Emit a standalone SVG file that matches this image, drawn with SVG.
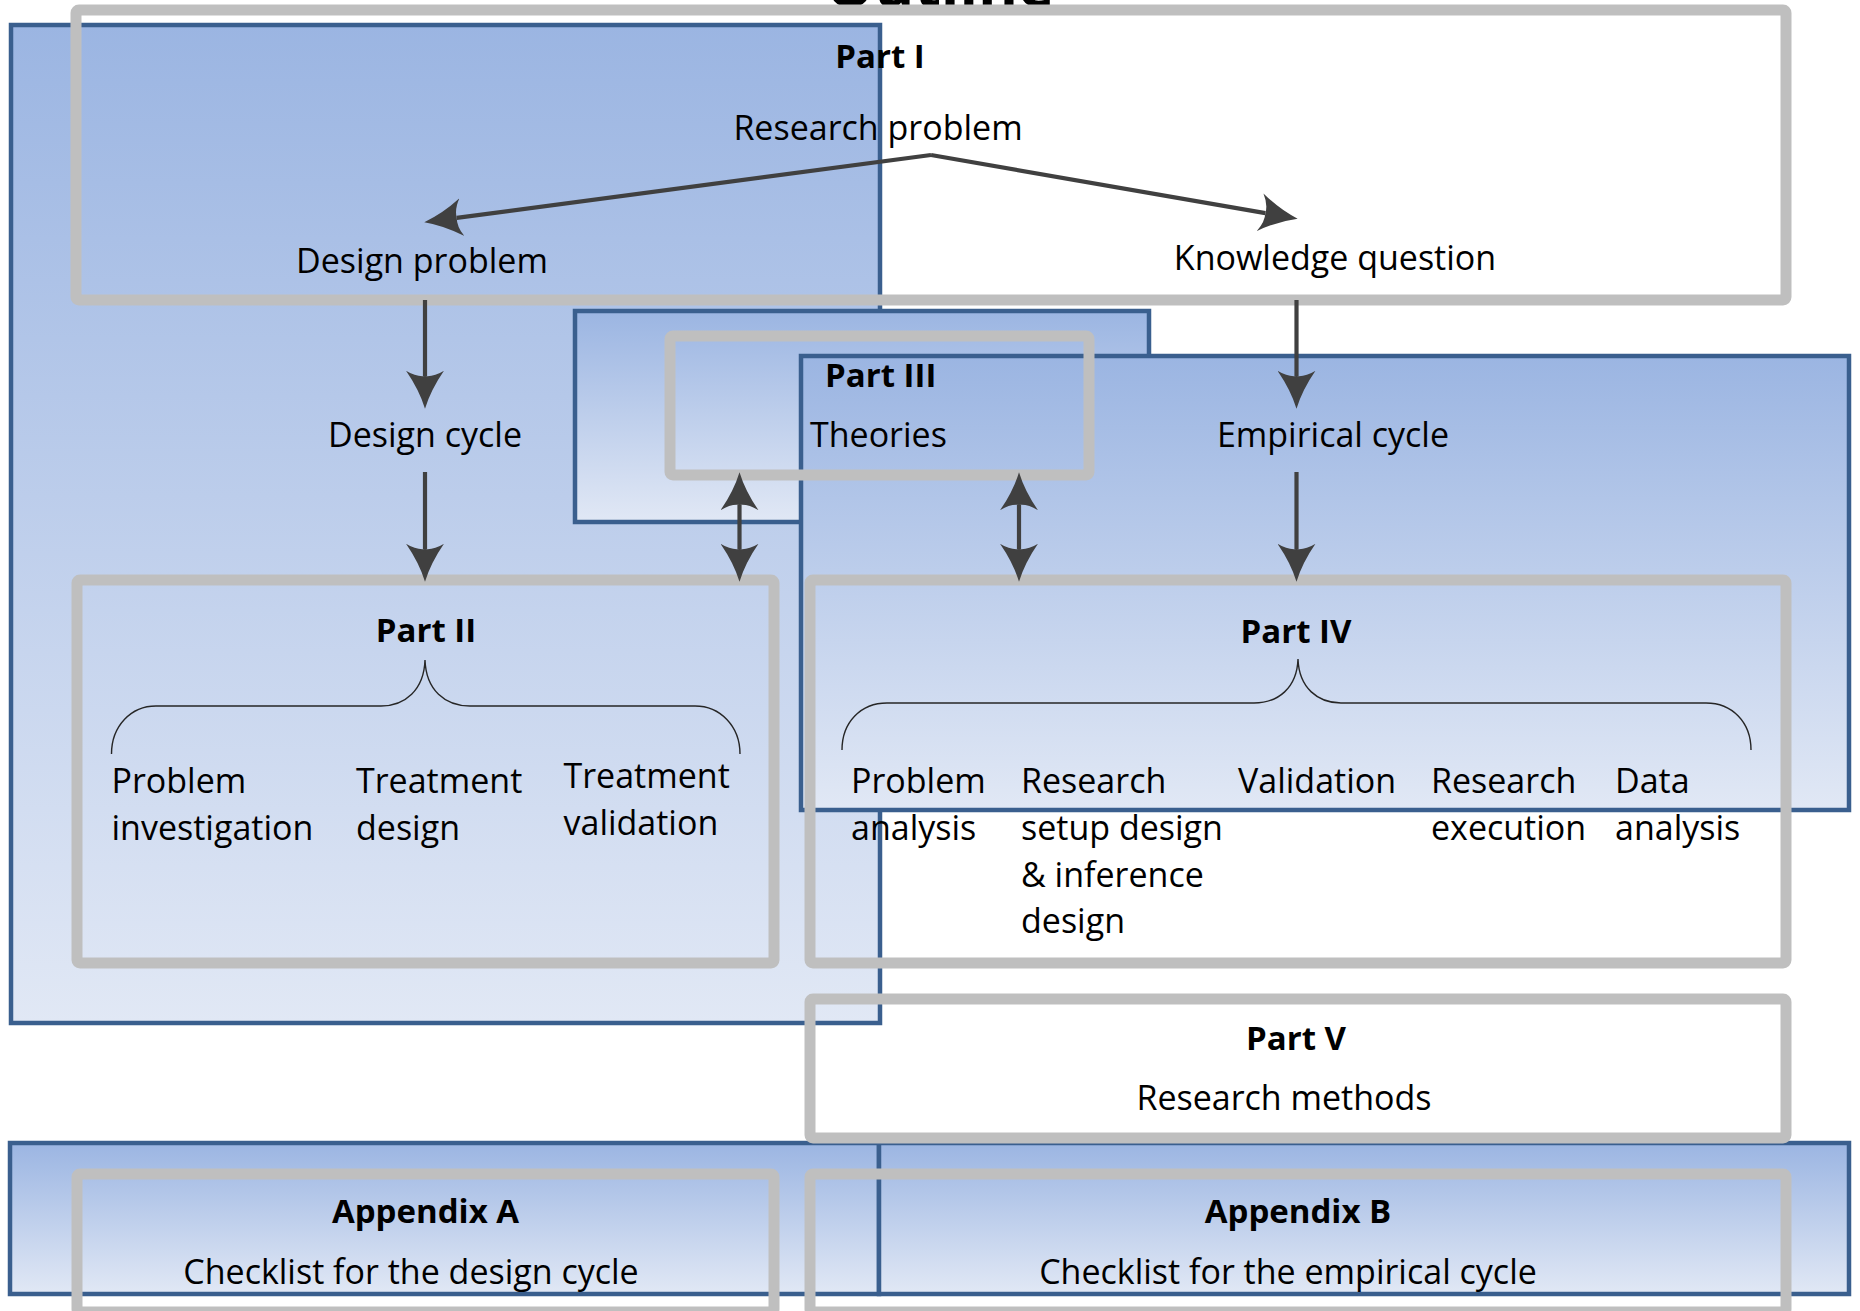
<svg xmlns="http://www.w3.org/2000/svg" width="1860" height="1311" viewBox="0 0 1860 1311">
<defs>
<linearGradient id="blueFill" x1="0" y1="0" x2="0" y2="1">
<stop offset="0" stop-color="#9bb5e2"/>
<stop offset="1" stop-color="#e1e8f5"/>
</linearGradient>
<marker id="head" markerUnits="userSpaceOnUse" markerWidth="38" markerHeight="38" viewBox="0 0 36 36" refX="5" refY="18" orient="auto-start-reverse">
<path d="M36,18 Q18,12.5 0,0 Q6,9.5 5,18 Q6,26.5 0,36 Q18,23.5 36,18 Z" fill="#404040"/>
</marker>
<style>
.area{fill:url(#blueFill);stroke:#3a5f8e;stroke-width:4.5}
.frame{fill:none;stroke:#bfbfbf;stroke-width:11;stroke-linejoin:round}
.t{font-family:"Open Sans","Noto Sans",sans-serif;font-size:34px;fill:#000}
.b{font-family:"Open Sans","Noto Sans",sans-serif;font-size:33px;font-weight:bold;fill:#000}
.c{text-anchor:middle}
.conn{fill:none;stroke:#404040;stroke-width:4.2}
.brace{fill:none;stroke:#262626;stroke-width:1.4}
</style>
</defs>
<rect width="1860" height="1311" fill="#ffffff"/>

<g id="area-design"><rect class="area" x="11" y="25" width="869" height="998"/></g>
<g id="area-theories"><rect class="area" x="575" y="311" width="574" height="211"/></g>
<g id="area-empirical"><rect class="area" x="801" y="356" width="1048" height="454"/></g>
<g id="area-appendix-a"><rect class="area" x="10" y="1143" width="869" height="151"/></g>
<g id="area-appendix-b"><rect class="area" x="879" y="1143" width="970" height="151"/></g>

<g id="title"><text class="b c" x="940" y="7" style="font-size:61px">Outline</text></g>

<g id="part-i">
<rect class="frame" x="76" y="10" width="1710" height="290" rx="3"/>
<text class="b c" x="880" y="68">Part I</text>
<text class="t c" x="878" y="140">Research problem</text>
<text class="t c" x="422" y="273">Design problem</text>
<text class="t c" x="1335" y="270">Knowledge question</text>
</g>

<g id="design-cycle"><text class="t c" x="425" y="447">Design cycle</text></g>
<g id="empirical-cycle"><text class="t c" x="1333" y="447">Empirical cycle</text></g>

<g id="part-iii">
<rect class="frame" x="670" y="336" width="419" height="139" rx="3"/>
<text class="b" x="825" y="387">Part III</text>
<text class="t" x="810" y="447">Theories</text>
</g>

<g id="part-ii">
<rect class="frame" x="77" y="580" width="697" height="383" rx="3"/>
<text class="b c" x="426" y="642">Part II</text>
<path class="brace" d="M111.5,754 C111.5,726 131,706 156,706 L381,706 C405,706 424,690 425,660 C426,690 445,706 470,706 L695,706 C720,706 740,726 740,754"/>
<text class="t" x="111.5" y="793">Problem</text>
<text class="t" x="111.5" y="840">investigation</text>
<text class="t" x="356" y="793">Treatment</text>
<text class="t" x="356" y="840">design</text>
<text class="t" x="563.5" y="788">Treatment</text>
<text class="t" x="563.5" y="835">validation</text>
</g>

<g id="part-iv">
<rect class="frame" x="810" y="580" width="976" height="383" rx="3"/>
<text class="b c" x="1296" y="643">Part IV</text>
<path class="brace" d="M842,750 C842,722 861,703 887,703 L1254,703 C1278,703 1297,688 1298,659 C1299,688 1318,703 1341,703 L1706,703 C1732,703 1751,722 1751,750"/>
<text class="t" x="851" y="793">Problem</text>
<text class="t" x="851" y="840">analysis</text>
<text class="t" x="1021" y="793">Research</text>
<text class="t" x="1021" y="840">setup design</text>
<text class="t" x="1021" y="887">&amp; inference</text>
<text class="t" x="1021" y="933">design</text>
<text class="t" x="1238" y="793">Validation</text>
<text class="t" x="1431" y="793">Research</text>
<text class="t" x="1431" y="840">execution</text>
<text class="t" x="1615" y="793">Data</text>
<text class="t" x="1615" y="840">analysis</text>
</g>

<g id="part-v">
<rect class="frame" x="810" y="999" width="976" height="139" rx="3"/>
<text class="b c" x="1296" y="1050">Part V</text>
<text class="t c" x="1284" y="1110">Research methods</text>
</g>

<g id="appendix-a">
<rect class="frame" x="77" y="1174" width="697" height="138" rx="3"/>
<text class="b c" x="425.5" y="1223">Appendix A</text>
<text class="t c" x="411" y="1284">Checklist for the design cycle</text>
</g>

<g id="appendix-b">
<rect class="frame" x="810" y="1174" width="976" height="138" rx="3"/>
<text class="b c" x="1298" y="1223">Appendix B</text>
<text class="t c" x="1288" y="1284">Checklist for the empirical cycle</text>
</g>

<g id="connectors">
<line class="conn" x1="931" y1="155" x2="456.7" y2="217.9" marker-end="url(#head)"/>
<line class="conn" x1="931" y1="155" x2="1265.4" y2="213.1" marker-end="url(#head)"/>
<line class="conn" x1="425" y1="300" x2="425" y2="376" marker-end="url(#head)"/>
<line class="conn" x1="425" y1="472" x2="425" y2="549" marker-end="url(#head)"/>
<line class="conn" x1="1296.5" y1="300" x2="1296.5" y2="376" marker-end="url(#head)"/>
<line class="conn" x1="1296.5" y1="472" x2="1296.5" y2="549" marker-end="url(#head)"/>
<line class="conn" x1="739.5" y1="505" x2="739.5" y2="549" marker-start="url(#head)" marker-end="url(#head)"/>
<line class="conn" x1="1019" y1="505" x2="1019" y2="549" marker-start="url(#head)" marker-end="url(#head)"/>
</g>
</svg>
